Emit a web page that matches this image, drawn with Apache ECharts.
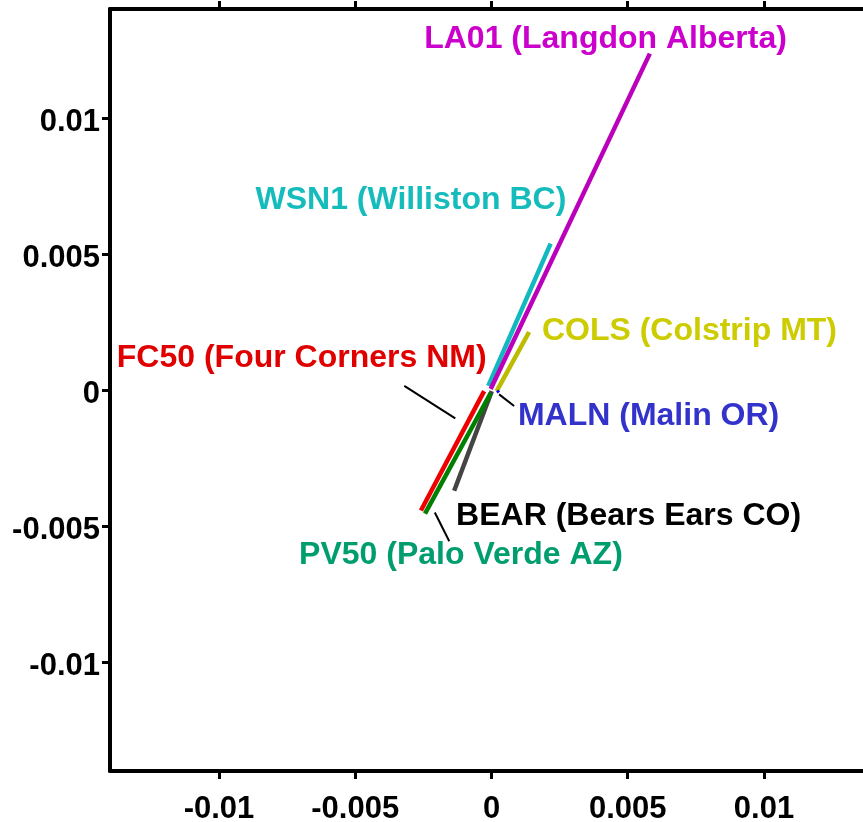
<!DOCTYPE html>
<html>
<head>
<meta charset="utf-8">
<script src="https://cdn.jsdelivr.net/npm/echarts@6/dist/echarts.min.js"></script>
<style>
html,body{margin:0;padding:0;background:#fff;}
#chart{width:863px;height:822px;}
</style>
</head>
<body>
<div id="chart"></div>
<script>
// ---- data ----
var sites = ["WSN1", "LA01", "COLS", "BEAR", "FC50", "PV50", "MALN"];
var segStartX = [-0.00012, -0.00003, 0.00019, 0.00001, -0.00027, -0.00003, 0.00021];
var segStartY = [0.00015, 0.00004, -0.00004, -0.00004, -0.00004, -0.00011, -0.00002];
var segEndX   = [0.00217, 0.00581, 0.00138, -0.00137, -0.00259, -0.00244, 0.00027];
var segEndY   = [0.00538, 0.01236, 0.00213, -0.00370, -0.00443, -0.00454, -0.00009];

var labelTexts = ["WSN1 (Williston BC)", "LA01 (Langdon Alberta)", "COLS (Colstrip MT)",
                  "BEAR (Bears Ears CO)", "FC50 (Four Corners NM)", "PV50 (Palo Verde AZ)", "MALN (Malin OR)"];
var labelX = [-0.00866, -0.00247, 0.00185, -0.00130, -0.01375, -0.00706, 0.00097];
var labelY = [0.00698, 0.01290, 0.00216, -0.00465, 0.00117, -0.00608, -0.00095];

// leader lines: [x1, y1, x2, y2]
var leaderFC50 = [-0.00320, 0.00015, -0.00133, -0.00104];
var leaderMALN = [0.00028, -0.00016, 0.00083, -0.00059];
var leaderPV50 = [-0.00208, -0.00450, -0.00155, -0.00556];

var tickValues = [-0.01, -0.005, 0, 0.005, 0.01];
var tickLabels = ["-0.01", "-0.005", "0", "0.005", "0.01"];
var axisMin = -0.014, axisMax = 0.014;

// ---- styles ----
var lineColors  = ["#12b8c0", "#bb00bb", "#bbbb00", "#444444", "#ee0000", "#008000", "#0000ff"];
var lineWidths  = [4.5, 4.5, 4.5, 4.5, 4.5, 4.5, 3];
var labelColors = ["#16bcbc", "#cc00cc", "#cccc00", "#000000", "#e00000", "#009e6e", "#3333cc"];

var FONT = "'Liberation Sans', Arial, sans-serif";

function fmt(v) {
  for (var i = 0; i < tickValues.length; i++) {
    if (Math.abs(tickValues[i] - v) < 1e-9) return tickLabels[i];
  }
  return "";
}
function fmtY(v) {
  var s = fmt(v);
  return s ? "{a|" + s + "}" : "";
}

var series = [];
for (var i = 0; i < sites.length; i++) {
  series.push({
    type: "line", name: sites[i], xAxisIndex: 0, yAxisIndex: 0,
    data: [[segStartX[i], segStartY[i]], [segEndX[i], segEndY[i]]],
    symbol: "none", silent: true,
    lineStyle: { color: lineColors[i], width: lineWidths[i], cap: "butt", opacity: 1 },
    z: 3
  });
}
[leaderFC50, leaderMALN, leaderPV50].forEach(function (l) {
  series.push({
    type: "line", data: [[l[0], l[1]], [l[2], l[3]]],
    symbol: "none", silent: true,
    lineStyle: { color: "#000", width: 2 }, z: 2
  });
});
var labelData = [];
for (var j = 0; j < labelTexts.length; j++) {
  labelData.push({
    value: [labelX[j], labelY[j]],
    name: labelTexts[j],
    label: { color: labelColors[j] }
  });
}
series.push({
  type: "scatter", symbolSize: 0, silent: true, z: 5,
  itemStyle: { opacity: 1 },
  data: labelData,
  label: {
    show: true, position: "inside", align: "left", verticalAlign: "middle", opacity: 1,
    formatter: function (p) { return p.name; },
    fontFamily: FONT, fontWeight: "bold", fontSize: 32
  }
});

var axisLineStyle = { color: "#000", width: 4 };
var labelStyle = { fontFamily: FONT, fontWeight: "bold", fontSize: 31, color: "#000" };

var option = {
  animation: false,
  backgroundColor: "#fff",
  grid: { left: 110, top: 9, width: 763, height: 762, containLabel: false, outerBoundsMode: "none" },
  xAxis: [
    {
      type: "value", position: "bottom", min: axisMin, max: axisMax,
      axisLine: { show: true, onZero: false, lineStyle: axisLineStyle },
      axisTick: { show: true, inside: false, length: 8, lineStyle: { color: "#000", width: 3 }, customValues: tickValues },
      axisLabel: Object.assign({ show: true, margin: 23, customValues: tickValues, formatter: fmt }, labelStyle),
      splitLine: { show: false }
    },
    {
      type: "value", position: "top", min: axisMin, max: axisMax,
      axisLine: { show: true, onZero: false, lineStyle: axisLineStyle },
      axisTick: { show: true, inside: false, length: 8, lineStyle: { color: "#000", width: 3 }, customValues: tickValues },
      axisLabel: { show: false },
      splitLine: { show: false }
    }
  ],
  yAxis: [
    {
      type: "value", position: "left", min: axisMin, max: axisMax,
      axisLine: { show: true, onZero: false, lineStyle: axisLineStyle },
      axisTick: { show: true, inside: false, length: 8, lineStyle: { color: "#000", width: 3 }, customValues: tickValues },
      axisLabel: Object.assign({
        show: true, margin: 10, customValues: tickValues, formatter: fmtY,
        rich: { a: { fontFamily: FONT, fontWeight: "bold", fontSize: 31, color: "#000", padding: [9, 0, 0, 0] } }
      }, labelStyle),
      splitLine: { show: false }
    }
  ],
  series: series
};

var chart = echarts.init(document.getElementById("chart"), null, { renderer: "canvas" });
chart.setOption(option);
</script>
</body>
</html>
